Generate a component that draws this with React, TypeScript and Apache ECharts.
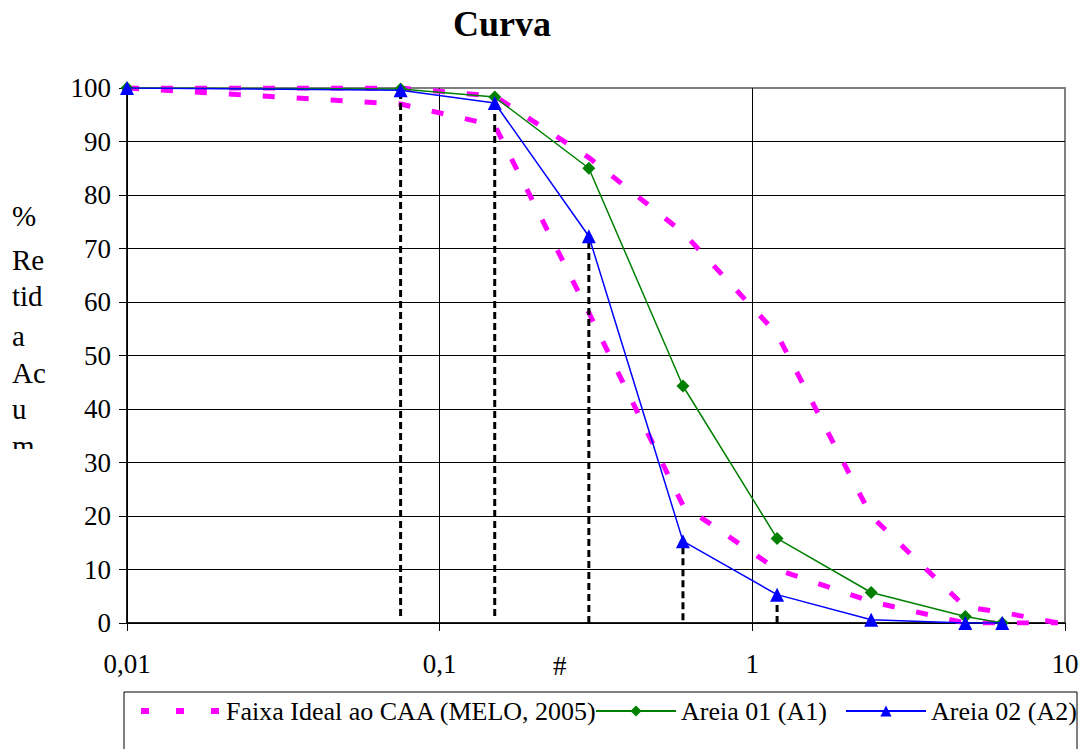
import React, { useEffect, useRef } from "react";
import * as echarts from "echarts";

// ---- data ----
const sieveSizes = [0.01, 0.075, 0.15, 0.3, 0.6, 1.2, 2.4, 4.8, 6.3];
const areia01 = [100, 99.8, 98.3, 85, 44.3, 15.8, 5.7, 1.2, 0];
const areia02 = [100, 99.6, 97.2, 72.3, 15.3, 5.3, 0.6, 0, 0];

const faixaSizes = [0.01, 0.075, 0.15, 0.3, 0.6, 1.2, 2.4, 4.8, 6.3, 9.5];
const faixaInferior = [100, 97, 93, 58, 22, 10, 4, 0, 0, 0];
const faixaSuperior = [100, 100, 98.5, 87, 73, 54, 20, 3, 2, 0];

const guideSizes = [0.075, 0.15, 0.3, 0.6, 1.2];
const guideBottom = [1.3, 1.3, 0, 0.5, 0];
const guideTop = [99.6, 97.2, 72.3, 15.3, 5.3];

const xTickLabels = ["0,01", "0,1", "1", "10"];
const yAxisTitleLines = ["%", "Re", "tid", "a", "Ac", "u", "m"];
const yAxisTitleTops = [201, 245, 281, 321, 358, 394, 431];

const NAME_FAIXA = "Faixa Ideal ao CAA (MELO, 2005)";
const NAME_A1 = "Areia 01 (A1)";
const NAME_A2 = "Areia 02 (A2)";
const FONT = "Liberation Serif";

export default function App() {
  const ref = useRef<HTMLDivElement>(null);

  useEffect(() => {
    document.body.style.margin = "0";
    const chart = echarts.init(ref.current!, null, { renderer: "svg" });

    const pairs = (xs: number[], ys: number[]) => xs.map((x, i) => [x, ys[i]]);

    const faixaStyle = { color: "#FF00FF", width: 5, type: [12, 22] as number[] };

    const guideSeries = guideSizes.map((x, i) => ({
      name: "guia" + i,
      type: "line",
      data: [
        [x, guideBottom[i]],
        [x, guideTop[i]],
      ],
      symbol: "none",
      lineStyle: { color: "#000", width: 3, type: [7, 4] },
      z: 3,
      silent: true,
    }));

    const yTitle = yAxisTitleLines.map((t, i) => ({
      type: "text",
      left: 12,
      top: yAxisTitleTops[i],
      style: { text: t, fontFamily: FONT, fontSize: 29, fill: "#000" },
      z: 10,
    }));

    const legendBase = {
      top: 698,
      padding: 0,
      itemWidth: 80,
      itemHeight: 14,
      itemGap: 5,
      textStyle: { fontFamily: FONT, fontSize: 26, color: "#000" },
      selectedMode: false,
    };

    chart.setOption({
      animation: false,
      textStyle: { fontFamily: FONT },
      title: {
        text: "Curva",
        left: 453,
        top: 6,
        padding: 0,
        textStyle: { fontFamily: FONT, fontSize: 36, fontWeight: "bold", color: "#000" },
      },
      legend: [
        {
          ...legendBase,
          left: 138,
          data: [
            {
              name: NAME_FAIXA,
              itemStyle: { opacity: 0 },
              lineStyle: { color: "#FF00FF", width: 6, type: [8, 27] },
            },
          ],
        },
        { ...legendBase, left: 595, data: [NAME_A1] },
        { ...legendBase, left: 845, data: [NAME_A2] },
      ],
      grid: {
        left: 127,
        right: 21,
        top: 88,
        bottom: 126,
        show: true,
        borderColor: "#808080",
        borderWidth: 2,
      },
      xAxis: {
        type: "log",
        logBase: 10,
        min: 0.01,
        max: 10,
        axisLine: { show: true, lineStyle: { color: "#000", width: 1.5 } },
        axisTick: { show: true, length: 8, lineStyle: { color: "#000" } },
        minorTick: { show: false },
        axisLabel: {
          margin: 27,
          fontSize: 27,
          color: "#000",
          fontFamily: FONT,
          formatter: (v: number) => xTickLabels[Math.round(Math.log10(v)) + 2] ?? "",
        },
        splitLine: {
          show: true,
          lineStyle: { color: ["#000", "#000", "#000", "#808080"], width: 1 },
        },
      },
      yAxis: {
        type: "value",
        min: 0,
        max: 100,
        interval: 10,
        axisLine: { show: true, lineStyle: { color: "#000", width: 1.5 } },
        axisTick: { show: true, length: 8, lineStyle: { color: "#000" } },
        axisLabel: { margin: 16, fontSize: 27, color: "#000", fontFamily: FONT },
        splitLine: {
          show: true,
          lineStyle: {
            color: ["#000", "#000", "#000", "#000", "#000", "#000", "#000", "#000", "#000", "#000", "#808080"],
            width: 1,
          },
        },
      },
      series: [
        {
          name: NAME_FAIXA,
          type: "line",
          data: pairs(faixaSizes, faixaInferior),
          symbol: "none",
          lineStyle: faixaStyle,
          itemStyle: { color: "#FF00FF" },
          z: 2,
        },
        {
          name: NAME_FAIXA,
          type: "line",
          data: pairs(faixaSizes, faixaSuperior),
          symbol: "none",
          lineStyle: faixaStyle,
          itemStyle: { color: "#FF00FF" },
          z: 2,
        },
        ...guideSeries,
        {
          name: NAME_A1,
          type: "line",
          data: pairs(sieveSizes, areia01),
          symbol: "diamond",
          symbolSize: 13,
          lineStyle: { color: "#008000", width: 1.5 },
          itemStyle: { color: "#008000" },
          z: 4,
        },
        {
          name: NAME_A2,
          type: "line",
          data: pairs(sieveSizes, areia02),
          symbol: "triangle",
          symbolSize: 14,
          lineStyle: { color: "#0000FF", width: 1.5 },
          itemStyle: { color: "#0000FF" },
          z: 5,
        },
      ],
      graphic: [
        ...yTitle,
        {
          type: "rect",
          shape: { x: 0, y: 449, width: 62, height: 25 },
          style: { fill: "#fff" },
          z: 11,
        },
        {
          type: "text",
          left: 553,
          top: 652,
          style: { text: "#", fontFamily: FONT, fontSize: 27, fill: "#000" },
          z: 10,
        },
        {
          type: "rect",
          shape: { x: 124, y: 692, width: 953, height: 100 },
          style: { fill: "none", stroke: "#000", lineWidth: 1 },
          z: 1,
        },
      ],
    });

    return () => chart.dispose();
  }, []);

  return <div ref={ref} style={{ width: 1086, height: 749, overflow: "hidden" }} />;
}
